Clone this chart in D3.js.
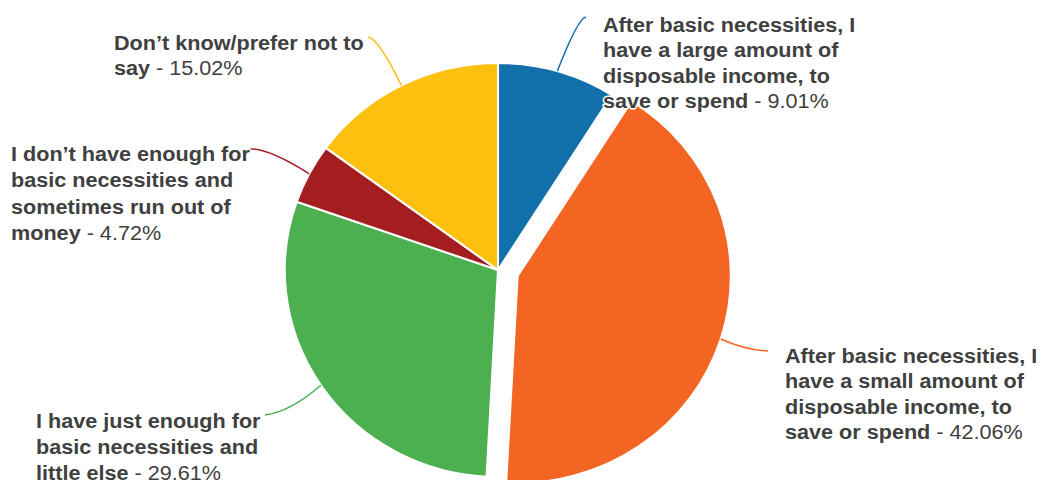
<!DOCTYPE html>
<html>
<head>
<meta charset="utf-8">
<script src="https://cdn.jsdelivr.net/npm/d3@7"></script>
<style>
  html, body { margin: 0; padding: 0; background: #fff; }
  svg { display: block; }
</style>
</head>
<body>
<svg id="chart" width="1041" height="480"></svg>
<script>
// Survey answers, clockwise from 12 o'clock
const categories = [
  "After basic necessities, I have a large amount of disposable income, to save or spend",
  "After basic necessities, I have a small amount of disposable income, to save or spend",
  "I have just enough for basic necessities and little else",
  "I don\u2019t have enough for basic necessities and sometimes run out of money",
  "Don\u2019t know/prefer not to say"
];
const values = [9.01, 42.06, 29.61, 4.72, 15.02];
const colors = ["#1170aa", "#f26522", "#4caf50", "#a31d21", "#fdc00f"];

// Line breaks used for each label
const labelLines = [
  ["After basic necessities, I", "have a large amount of", "disposable income, to", "save or spend"],
  ["After basic necessities, I", "have a small amount of", "disposable income, to", "save or spend"],
  ["I have just enough for", "basic necessities and", "little else"],
  ["I don\u2019t have enough for", "basic necessities and", "sometimes run out of", "money"],
  ["Don\u2019t know/prefer not to", "say"]
];

// Layout
const cx = 498, cy = 270, r = 207, sx = 1.03;   // slight horizontal stretch
const explodeIndex = 1, explodeDist = 20;
const labelPos = [
  { x: 603, y: 32,  lh: 25.5, anchor: [586, 17] },
  { x: 785, y: 363, lh: 25.5, anchor: [768, 351] },
  { x: 36,  y: 428, lh: 26,   anchor: [265, 415] },
  { x: 11,  y: 161, lh: 26.3, anchor: [250, 149] },
  { x: 114, y: 50,  lh: 25.5, anchor: [368, 37] }
];
// Bend of each leader line (control point offset relative to anchor)
const leaderBend = [[-8, 1], [-23, -1], [25, -3], [18, -1], [10, 1]];

const svg = d3.select("#chart");

const pie = d3.pie().sort(null).value(d => d);
const arcs = pie(values);
const arc = d3.arc().innerRadius(0).outerRadius(r);
const edge = d3.arc().innerRadius(r).outerRadius(r);

// Offset of each slice (only the exploded one moves)
function offsetOf(d, i) {
  if (i !== explodeIndex) return [0, 0];
  const a = (d.startAngle + d.endAngle) / 2;
  return [Math.sin(a) * explodeDist, -Math.cos(a) * explodeDist];
}

const pieG = svg.append("g")
  .attr("transform", `translate(${cx},${cy}) scale(${sx},1)`);

pieG.selectAll("path.slice")
  .data(arcs)
  .join("path")
  .attr("class", "slice")
  .attr("transform", (d, i) => { const o = offsetOf(d, i); return `translate(${o[0]},${o[1]})`; })
  .attr("d", arc)
  .attr("fill", (d, i) => colors[i])
  .attr("stroke", "#fff")
  .attr("stroke-width", 2)
  .attr("stroke-linejoin", "round");

// Leader lines from each label to the slice's outer edge at its mid-angle
const leaders = svg.append("g");
arcs.forEach((d, i) => {
  const o = offsetOf(d, i);
  const [ex, ey] = edge.centroid(d);
  const px = cx + sx * (ex + o[0]);
  const py = cy + ey + o[1];
  const [ax, ay] = labelPos[i].anchor;
  const [bx, by] = leaderBend[i];
  const path = d3.path();
  path.moveTo(ax, ay);
  path.quadraticCurveTo(ax + bx, ay + by, px, py);
  leaders.append("path")
    .attr("d", path.toString())
    .attr("fill", "none")
    .attr("stroke", colors[i])
    .attr("stroke-width", 1.5);
});

// Labels
const fmt = d3.format(".2f");
const labels = svg.append("g")
  .attr("font-family", "'Liberation Sans', Arial, sans-serif")
  .attr("font-size", 21)
  .attr("fill", "#404040");

labelLines.forEach((lines, i) => {
  const p = labelPos[i];
  const g = labels.append("g")
    .attr("transform", `translate(${p.x},${p.y}) scale(${sx},1)`);
  lines.forEach((line, k) => {
    const t = g.append("text")
      .attr("x", 0)
      .attr("y", k * p.lh)
      .attr("stroke", "#fff")
      .attr("stroke-width", 3)
      .attr("stroke-linejoin", "round")
      .attr("paint-order", "stroke");
    t.append("tspan").attr("font-weight", "bold").text(line);
    if (k === lines.length - 1) {
      t.append("tspan").attr("font-weight", "normal").text(` - ${fmt(values[i])}%`);
    }
  });
});
</script>
</body>
</html>
